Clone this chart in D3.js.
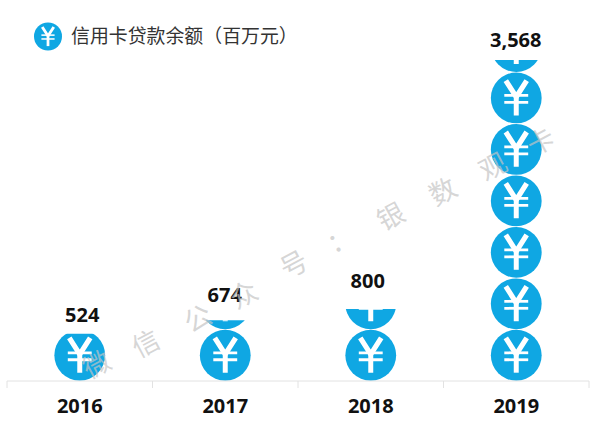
<!DOCTYPE html>
<html><head><meta charset="utf-8">
<script src="https://cdn.jsdelivr.net/npm/d3@7/dist/d3.min.js"></script>
<style>html,body{margin:0;padding:0;background:#fff}svg{display:block}</style>
</head><body><svg id="c" width="598" height="428"></svg>
<script>
const years = ["2016","2017","2018","2019"];
const values = [524,674,800,3568];
const labels = ["524","674","800","3,568"];
const unitValue = 572;
const title = "信用卡贷款余额（百万元）";
const watermark = ["微","信","公","众","号","：","银","数","观","卡"];
const blue = "#0fa7e3";
const labelGap = [12,18,21,13];
const labelDx = [2.5,-0.5,-3,-0.5];

const svg = d3.select("#c");
const x = d3.scaleBand().domain(years).range([7,589]);
const y = d3.scaleLinear().domain([0,3568]).range([381,60]);
const defs = svg.append("defs");

function yen(g, cx, cy, r){
  const k = r/25.5;
  const p = d3.path();
  p.moveTo(cx-10.5*k,cy-17.5*k); p.lineTo(cx,cy-1*k); p.lineTo(cx+10.5*k,cy-17.5*k);
  g.append("path").attr("d",p.toString()).attr("fill","none").attr("stroke","#fff").attr("stroke-width",5.2*k);
  [-2.5,4.5].forEach(d=>{
    g.append("line").attr("x1",cx-12*k).attr("x2",cx+12*k).attr("y1",cy+d*k).attr("y2",cy+d*k)
     .attr("stroke","#fff").attr("stroke-width",2.8*k);
  });
  g.append("line").attr("x1",cx).attr("x2",cx).attr("y1",cy-2*k).attr("y2",cy+17.5*k)
   .attr("stroke","#fff").attr("stroke-width",5*k);
}

const pitch = y(0)-y(unitValue);
years.forEach((yr,i)=>{
  const cx = x(yr)+x.bandwidth()/2;
  defs.append("clipPath").attr("id","clip"+i).append("rect")
    .attr("x",x(yr)).attr("width",x.bandwidth())
    .attr("y",y(values[i])).attr("height",y(0)-y(values[i]));
  const g = svg.append("g").attr("clip-path",`url(#clip${i})`);
  d3.range(Math.ceil(values[i]/unitValue)).forEach(n=>{
    const cy = y(n*unitValue)-pitch/2;
    g.append("circle").attr("cx",cx).attr("cy",cy).attr("r",25.4).attr("fill",blue);
    yen(g,cx,cy,25.4);
  });
  svg.append("text").attr("x",cx+labelDx[i]).attr("y",y(values[i])-labelGap[i])
    .attr("text-anchor","middle").attr("font-family","'Open Sans'").attr("font-weight",700)
    .attr("font-size",20).attr("fill","#111").text(labels[i]);
});

const ax = svg.append("g").attr("transform",`translate(0,${y(0)})`)
  .call(d3.axisBottom(x).tickSize(0).tickPadding(18));
ax.select(".domain").attr("stroke","#e2e2e2").attr("stroke-width",1).attr("d","M7,0H589");
ax.selectAll("text").attr("font-family","'Open Sans'").attr("font-weight",700).attr("font-size",20).attr("fill","#111");
ax.selectAll(".sep").data([...years.map(d=>x(d)),x.range()[1]]).enter().append("line").attr("class","sep")
  .attr("x1",d=>d).attr("x2",d=>d).attr("y1",0).attr("y2",7).attr("stroke","#e2e2e2");

// legend
svg.append("circle").attr("cx",48).attr("cy",36.5).attr("r",14).attr("fill",blue);
yen(svg.append("g"),48,36.5,14);
svg.append("text").attr("x",71).attr("y",43).attr("font-family","'Noto Sans CJK SC'")
  .attr("font-size",18.9).attr("fill","#333").text(title);

// watermark
const wmX = [96,145,197,243,293,340,390,442,492,540];
const wmY = [363,342,317,293,263,238,215,190,165,140];
svg.append("g").selectAll("text").data(watermark).enter().append("text")
  .attr("transform",(d,i)=>`translate(${wmX[i]},${wmY[i]}) rotate(-28)`)
  .attr("text-anchor","middle").attr("dominant-baseline","central")
  .attr("font-family","'Noto Sans CJK SC'").attr("font-size",27)
  .attr("fill","#c4c4c4").attr("fill-opacity",0.7).text(d=>d);
</script></body></html>
